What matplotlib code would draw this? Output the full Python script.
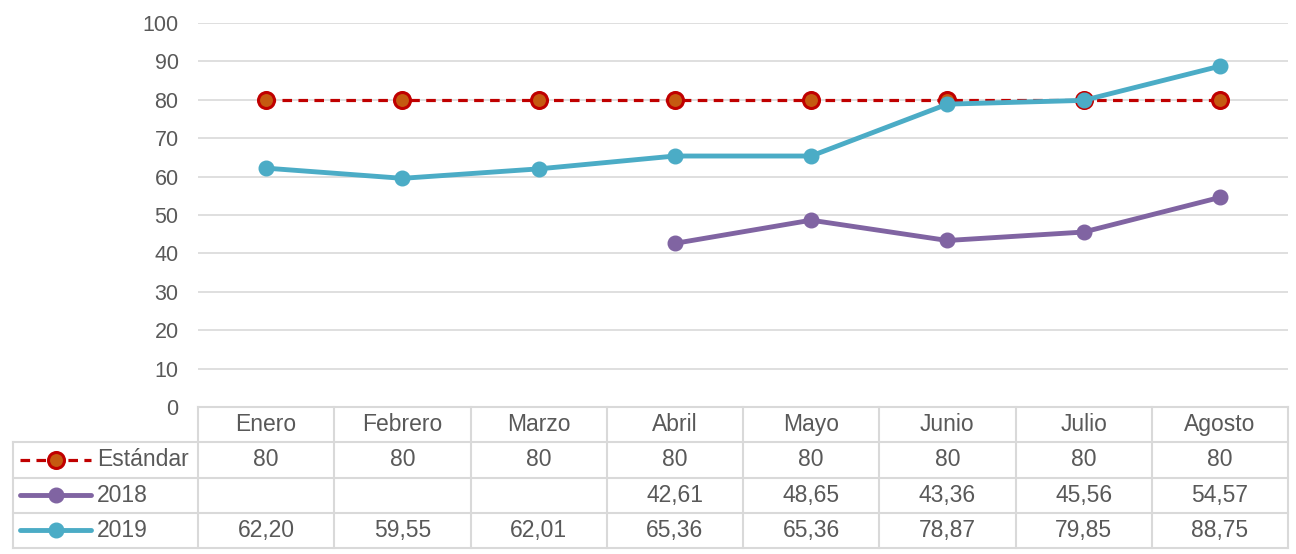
import numpy as np
import matplotlib.pyplot as plt

plt.rcParams['font.family'] = ['Liberation Sans', 'DejaVu Sans']

# DATA
months = ['Enero', 'Febrero', 'Marzo', 'Abril', 'Mayo', 'Junio', 'Julio', 'Agosto']
estandar = [80, 80, 80, 80, 80, 80, 80, 80]
y2018 = [None, None, None, 42.61, 48.65, 43.36, 45.56, 54.57]
y2019 = [62.20, 59.55, 62.01, 65.36, 65.36, 78.87, 79.85, 88.75]
series_names = ['Estándar', '2018', '2019']

text_col = '#595959'
grid_col = '#d9d9d9'
red = '#C00000'
purple = '#8064A2'
teal = '#4BACC6'

W, H = 1296, 554
fig = plt.figure(figsize=(W / 100, H / 100), dpi=100)

# plot area in pixels
x0, x1 = 198, 1288
ytop, ybot = 23, 407
ax = fig.add_axes([x0 / W, 1 - ybot / H, (x1 - x0) / W, (ybot - ytop) / H])

x = np.arange(len(months))
y18 = np.array([np.nan if v is None else v for v in y2018])

ax.plot(x, estandar, color=red, lw=2.3, ls=(0, (3, 2)), marker='o', ms=11.5,
        mfc='#C55A11', mec=red, mew=2.2, zorder=3)
ax.plot(x, y18, color=purple, lw=3.5, marker='o', ms=10.5, zorder=4)
ax.plot(x, y2019, color=teal, lw=3.5, marker='o', ms=10.5, zorder=5)

ax.set_xlim(-0.5, len(months) - 0.5)
ax.set_ylim(0, 100)
ax.set_yticks(range(0, 101, 10))
ax.set_xticks([])
ax.grid(axis='y', color=grid_col, lw=1.2)
ax.set_axisbelow(True)
for s in ax.spines.values():
    s.set_visible(False)
ax.tick_params(axis='y', length=0, labelsize=15.5, labelcolor=text_col, pad=14)

# DATA TABLE
row_edges = [407, 443, 478, 513, 548]
tab = fig.add_axes([x0 / W, 1 - row_edges[-1] / H, (x1 - x0) / W,
                    (row_edges[-1] - row_edges[0]) / H])
tab.set_xlim(-0.5, len(months) - 0.5)
tab.set_ylim(4, 0)
tab.axis('off')
colw = (x1 - x0) / len(months)
leg_left = -0.5 - (x0 - 13) / colw
lkw = dict(color=grid_col, lw=1.5, clip_on=False)

# horizontal lines
tab.plot([-0.5, 7.5], [0, 0], **lkw)
for r in [1, 2, 3, 4]:
    tab.plot([leg_left, 7.5], [r, r], **lkw)
# vertical lines
for c in range(9):
    tab.plot([c - 0.5, c - 0.5], [0, 4], **lkw)
tab.plot([leg_left, leg_left], [1, 4], **lkw)

fs = 16.5
for i, m in enumerate(months):
    tab.text(i, 0.5, m, ha='center', va='center', fontsize=fs, color=text_col)

def fmt(v):
    if v is None:
        return ''
    if float(v).is_integer():
        return str(int(v))
    return f'{v:.2f}'.replace('.', ',')

rows = [estandar, y2018, y2019]
for r, vals in enumerate(rows):
    for i, v in enumerate(vals):
        tab.text(i, r + 1.5, fmt(v), ha='center', va='center', fontsize=fs, color=text_col)

# legend keys
kx0 = leg_left + 7 / colw
kx1 = leg_left + 78 / colw
kxm = (kx0 + kx1) / 2
tab.plot([kx0, kx1], [1.5, 1.5], color=red, lw=2.3, ls=(0, (3, 2)), clip_on=False)
tab.plot([kxm], [1.5], marker='o', ms=11.5, mfc='#C55A11', mec=red, mew=2.2, clip_on=False)
tab.plot([kx0, kx1], [2.5, 2.5], color=purple, lw=3.5, solid_capstyle='round', clip_on=False)
tab.plot([kxm], [2.5], marker='o', ms=10.5, color=purple, clip_on=False)
tab.plot([kx0, kx1], [3.5, 3.5], color=teal, lw=3.5, solid_capstyle='round', clip_on=False)
tab.plot([kxm], [3.5], marker='o', ms=10.5, color=teal, clip_on=False)
for r, name in enumerate(series_names):
    tab.text(leg_left + 84 / colw, r + 1.5, name, ha='left', va='center', fontsize=fs, color=text_col)

fig.savefig('out.png', dpi=100)
